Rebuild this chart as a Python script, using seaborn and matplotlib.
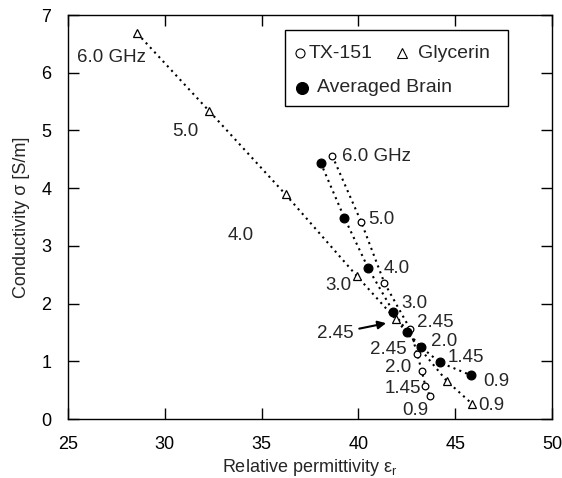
import matplotlib
matplotlib.use("Agg")
import matplotlib.pyplot as plt
from matplotlib.patches import Rectangle
import seaborn as sns
import pandas as pd

# ---- data ----
tx_freq = ["6.0", "5.0", "4.0", "3.0", "2.45", "2.0", "1.45", "0.9"]
tx_eps = [38.65, 40.15, 41.34, 42.67, 43.04, 43.27, 43.46, 43.70]
tx_sigma = [4.56, 3.41, 2.36, 1.56, 1.12, 0.84, 0.57, 0.40]

gly_freq = ["6.0", "5.0", "4.0", "3.0", "2.45", "1.45", "0.9"]
gly_eps = [28.58, 32.28, 36.24, 39.94, 41.93, 44.56, 45.88]
gly_sigma = [6.68, 5.34, 3.89, 2.47, 1.73, 0.66, 0.26]

br_freq = ["6.0", "5.0", "4.0", "3.0", "2.45", "2.0", "1.45", "0.9"]
br_eps = [38.05, 39.27, 40.51, 41.80, 42.53, 43.22, 44.21, 45.80]
br_sigma = [4.44, 3.49, 2.61, 1.86, 1.51, 1.25, 0.98, 0.76]

x_ticks = [25, 30, 35, 40, 45, 50]
y_ticks = [0, 1, 2, 3, 4, 5, 6, 7]

# text annotations: (text, x, y, ha)
labels = [
    ("6.0 GHz", 27.26, 6.27, "center"),
    ("5.0", 31.04, 4.99, "center"),
    ("4.0", 33.9, 3.18, "center"),
    ("3.0", 38.96, 2.32, "center"),
    ("6.0 GHz", 39.13, 4.55, "left"),
    ("5.0", 40.51, 3.45, "left"),
    ("4.0", 41.32, 2.61, "left"),
    ("3.0", 42.23, 2.00, "left"),
    ("2.45", 43.04, 1.67, "left"),
    ("2.0", 43.73, 1.34, "left"),
    ("1.45", 44.61, 1.06, "left"),
    ("0.9", 47.14, 0.65, "center"),
    ("2.45", 41.55, 1.20, "center"),
    ("2.0", 42.06, 0.90, "center"),
    ("1.45", 42.32, 0.52, "center"),
    ("0.9", 42.92, 0.14, "center"),
    ("0.9", 46.88, 0.23, "center"),
]

sns.set_style("ticks")
plt.rcParams["font.family"] = ["Liberation Sans", "DejaVu Sans"]
plt.rcParams["mathtext.fontset"] = "custom"
plt.rcParams["mathtext.rm"] = "Liberation Sans"
plt.rcParams["mathtext.it"] = "Liberation Sans:italic"

fig = plt.figure(figsize=(5.62, 4.78), dpi=100)
ax = fig.add_axes([68 / 562, 1 - 419 / 478, (552 - 68) / 562, (419 - 15) / 478])

dot = (0, (1, 2))
series = [
    (tx_eps, tx_sigma, "o", "white", 4.8),
    (gly_eps, gly_sigma, "^", "white", 5.5),
    (br_eps, br_sigma, "o", "black", 6.3),
]
for xs, ys, m, fc, ms in series:
    df = pd.DataFrame({"eps": xs, "sigma": ys})
    sns.lineplot(data=df, x="eps", y="sigma", sort=False, estimator=None,
                 ax=ax, color="black", linestyle=dot, linewidth=1.5)
    ax.plot(df["eps"], df["sigma"], linestyle="none", marker=m,
            markerfacecolor=fc, markeredgecolor="black", markeredgewidth=0.9,
            markersize=ms, zorder=3)

for t, x, y, ha in labels:
    ax.text(x, y, t, ha=ha, va="center", fontsize=13.5)

ax.annotate("2.45", xy=(41.43, 1.66), xytext=(38.79, 1.48),
            ha="center", va="center", fontsize=13.5,
            arrowprops=dict(arrowstyle="-|>", color="black", lw=1.5,
                            shrinkA=2, shrinkB=0, mutation_scale=12))

ax.set_xlim(25, 50)
ax.set_ylim(0, 7)
ax.set_xticks(x_ticks)
ax.set_yticks(y_ticks)
ax.tick_params(direction="in", length=8, width=1, top=True, right=True,
               labelsize=13, pad=12, colors="black")
for s in ax.spines.values():
    s.set_linewidth(1.0)
    s.set_color("black")
ax.set_xlabel("Relative permittivity ε$_{\\mathrm{r}}$", fontsize=13, labelpad=3)
ax.set_ylabel("Conductivity σ [S/m]", fontsize=13, labelpad=8)

# legend box drawn in axes-fraction coordinates
def fx(px):
    return (px - 68) / 484

def fy(py):
    return (419 - py) / 404

ax.add_patch(Rectangle((fx(285), fy(106)), fx(508) - fx(285), fy(30) - fy(106),
                       transform=ax.transAxes, facecolor="white",
                       edgecolor="black", linewidth=1.0, zorder=5))
leg_items = [
    ("TX-151", "o", "white", 6.5, 300, 53, 309),
    ("Glycerin", "^", "white", 7.5, 402, 53, 418),
    ("Averaged Brain", "o", "black", 8.6, 302, 88, 317),
]
for name, m, fc, ms, mx, my, tx in leg_items:
    ax.plot([fx(mx)], [fy(my)], transform=ax.transAxes, linestyle="none",
            marker=m, markerfacecolor=fc, markeredgecolor="black",
            markeredgewidth=0.8, markersize=ms, zorder=6)
    ax.text(fx(tx), fy(my), name, transform=ax.transAxes, ha="left",
            va="center", fontsize=14, zorder=6)

fig.savefig("out.png", dpi=100)
